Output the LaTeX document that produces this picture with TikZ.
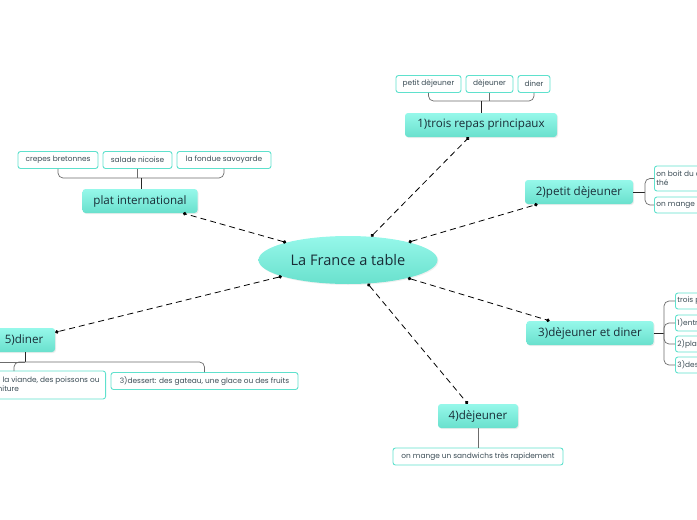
\documentclass[tikz,border=0pt]{standalone}
\usepackage{fontspec}
\setmainfont{Open Sans}
\newfontfamily\subf{Poppins}
\usetikzlibrary{arrows.meta,shadows,shapes.geometric}
\definecolor{tealtop}{RGB}{150,248,234}
\definecolor{tealbot}{RGB}{105,224,205}
\definecolor{tealborder}{RGB}{95,225,205}
\definecolor{txt}{RGB}{25,45,55}
\begin{document}
\begin{tikzpicture}[x=1pt,y=-1pt,
 topic/.style={rounded corners=3pt, top color=tealtop, bottom color=tealbot, draw=none,
   minimum height=24pt, inner sep=2pt, font=\fontsize{11.6}{13}\selectfont, text=txt,
   drop shadow={opacity=0.15, shadow xshift=1pt, shadow yshift=-1pt}},
 sub/.style={rounded corners=2.5pt, draw=tealborder, line width=0.9pt, fill=white,
   minimum height=17pt, inner sep=2pt, font=\subf\fontsize{7.4}{9}\selectfont, text=txt!85},
 link/.style={line width=0.8pt, dash pattern=on 6pt off 4pt,
   {Circle[length=3.5pt]}-{Circle[length=3.5pt]}},
 brack/.style={draw=gray!85!black, line width=0.7pt, rounded corners=5pt},
 trunk/.style={draw=black!85, line width=0.9pt}]
\useasboundingbox (0,0) rectangle (697,520);
\clip (0,0) rectangle (697,520);

% central
\node[ellipse, minimum width=179pt, minimum height=48pt, top color=tealtop, bottom color=tealbot,
  font=\fontsize{14.6}{16}\selectfont, text=txt,
  drop shadow={opacity=0.12, shadow xshift=1pt, shadow yshift=-1pt}] (c) at (348,260) {La France a table};

% topics
\node[topic, minimum width=152pt] (t1) at (481,125) {1)trois repas principaux};
\node[topic, minimum width=115pt] (tp) at (140,201) {plat international};
\node[topic, minimum width=108pt] (t2) at (579,192) {2)petit dèjeuner};
\node[topic, minimum width=127pt] (t3) at (590,333) {3)dèjeuner et diner};
\node[topic, minimum width=80pt] (t4) at (478,416) {4)dèjeuner};
\node[topic, minimum width=62pt] (t5) at (24,340) {5)diner};

% links
\draw[link] (c) -- (t1);
\draw[link] (c) -- (tp);
\draw[link] (c) -- (t2);
\draw[link] (c) -- (t3);
\draw[link] (c) -- (t4);
\draw[link] (c) -- (t5);

% subtopics 1
\node[sub, minimum width=65pt] (s11) at (428.5,84) {petit dèjeuner};
\node[sub, minimum width=47pt] (s12) at (489.5,84) {dèjeuner};
\node[sub, minimum width=32pt] (s13) at (534,84) {diner};
\coordinate (j1) at (481,101);
\draw[brack] (s11.south) |- (j1);
\draw[brack] (s13.south) |- (j1);
\draw[brack] (s12.south) -- (s12.south |- j1);
\draw[trunk] (j1) -- (t1.north -| j1);

% plat international
\node[sub, minimum width=80pt] (sp1) at (58,160) {crepes bretonnes};
\node[sub, minimum width=69pt] (sp2) at (137.5,160) {salade nicoise};
\node[sub, minimum width=94pt] (sp3) at (224,160) {la fondue savoyarde};
\coordinate (jp) at (141,178);
\draw[brack] (sp1.south) |- (jp);
\draw[brack] (sp3.south) |- (jp);
\draw[brack] (sp2.south) -- (sp2.south |- jp);
\draw[trunk] (jp) -- (tp.north -| jp);

% 2)
\node[sub, anchor=west, minimum height=25pt, align=left] (s21) at (654,178.5) {on boit du café ou du\\thé};
\node[sub, anchor=west, minimum height=16pt] (s22) at (654,205) {on mange des tartines};
\coordinate (j2) at (645,192);
\draw[trunk] (t2.east) -- (j2);
\draw[brack] (j2) |- (s21.west);
\draw[brack] (j2) |- (s22.west);

% 3)
\node[sub, anchor=west, minimum height=16pt] (s31) at (675,301) {trois plats};
\node[sub, anchor=west, minimum height=16pt] (s32) at (675,323) {1)entrée};
\node[sub, anchor=west, minimum height=16pt] (s33) at (675,344) {2)plat principal};
\node[sub, anchor=west, minimum height=16pt] (s34) at (675,365) {3)dessert};
\coordinate (j3) at (664,333);
\draw[trunk] (t3.east) -- (j3);
\draw[brack] (j3) |- (s31.west);
\draw[brack] (j3) |- (s32.west);
\draw[brack] (j3) |- (s33.west);
\draw[brack] (j3) |- (s34.west);

% 4)
\node[sub, minimum width=170pt] (s4) at (478,456.5) {on mange un sandwichs très rapidement};
\draw[brack] (t4.south) -- (s4.north);

% 5)
\node[sub, anchor=east, minimum height=28pt, align=left, inner xsep=6pt] (s51) at (106,385) {2)plat: de la viande, des poissons ou\\de la garniture};
\node[sub, minimum width=187pt] (s52) at (204.5,381) {3)dessert: des gateau, une glace ou des fruits};
\coordinate (j5) at (25,362);
\coordinate (e5) at (-30,362);
\draw[trunk] (t5.south -| j5) -- (j5);
\draw[brack] (e5) -- (j5);
\draw[brack] (j5) -| (s52.north);
\draw[brack] (j5) -| (14,371);
\end{tikzpicture}
\end{document}
